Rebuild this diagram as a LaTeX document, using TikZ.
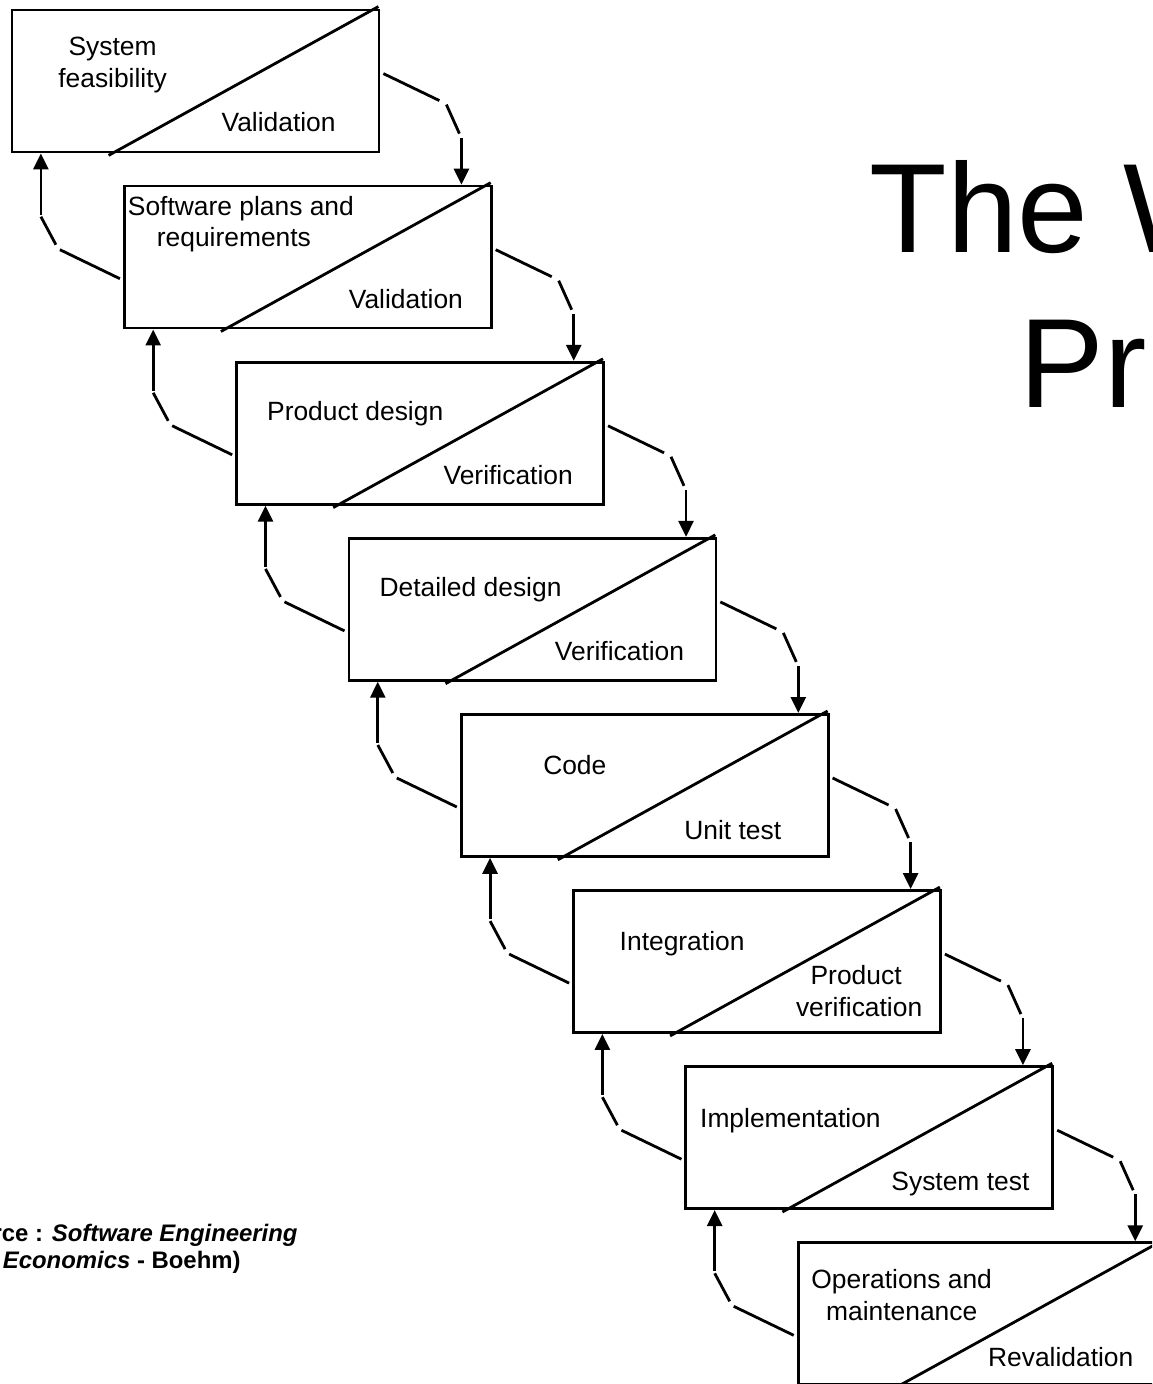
\documentclass[tikz,border=0pt]{standalone}
\usepackage{fontspec}
\setmainfont{Liberation Sans}
\usetikzlibrary{arrows.meta,calc}
\tikzset{
  box/.style={draw, line width=1.4pt, minimum width=183.5pt, minimum height=71pt, inner sep=0pt},
  diag/.style={line width=1.4pt},
  conn/.style={line width=1.4pt},
  connarrow/.style={line width=1.4pt, -{Triangle[length=8pt,width=7.5pt]}},
  lbl/.style={inner sep=0pt, anchor=base, font=\fontsize{13.2}{15}\selectfont},
  title/.style={inner sep=0pt, anchor=base west, font=\fontsize{63.5}{70}\selectfont},
  src/.style={inner sep=0pt, anchor=base east, font=\fontsize{11.95}{14}\selectfont\bfseries}
}
\begin{document}
\begin{tikzpicture}[x=0.5pt,y=-0.5pt]
\useasboundingbox (0,0) rectangle (1152,1384);
\clip (0,0) rectangle (1152,1384);
\fill[white] (0,0) rectangle (1152,1384);
% boxes
\foreach \i in {0,...,7}{
  \node[box] (b\i) at ({12+112.3*\i+183.5},{10+176.1*\i+71}) {};
  \draw[diag] ($(b\i.south west)+(98,2)$) -- ($(b\i.north east)+(-2,-2)$);
}
% connectors
\foreach \i/\j in {0/1,1/2,2/3,3/4,4/5,5/6,6/7}{
  % forward (right side)
  \draw[conn] ($(b\i.north east)+(3,65)$) -- ($(b\i.north east)+(59,92)$);
  \draw[conn] ($(b\i.north east)+(66,96)$) -- ($(b\i.north east)+(79,125)$);
  \coordinate (r\i) at ($(b\i.north east)+(81,129)$);
  \draw[connarrow] (r\i) -- (r\i |- b\j.north);
  % backward (left side)
  \draw[conn] ($(b\j.north west)+(-3,94)$) -- ($(b\j.north west)+(-63,65)$);
  \draw[conn] ($(b\j.north west)+(-67,60)$) -- ($(b\j.north west)+(-82,32)$);
  \coordinate (l\j) at ($(b\j.north west)+(-82,30)$);
  \draw[connarrow] (l\j) -- (l\j |- b\i.south);
}
% labels
\node[lbl] (t0a) at ($(b0.north west)+(102,47)$) {System};
\node[lbl] (t0b) at ($(b0.north west)+(102,79)$) {feasibility};
\node[lbl] (t0c) at ($(b0.north west)+(268,123)$) {Validation};
\node[lbl] (t1a) at ($(b1.north west)+(118,31)$) {Software plans and};
\node[lbl] (t1b) at ($(b1.north west)+(111,62)$) {requirements};
\node[lbl] (t1c) at ($(b1.north west)+(283,124)$) {Validation};
\node[lbl] (t2a) at ($(b2.north west)+(120,60)$) {Product design};
\node[lbl] (t2c) at ($(b2.north west)+(273,124)$) {Verification};
\node[lbl] (t3a) at ($(b3.north west)+(123,60)$) {Detailed design};
\node[lbl] (t3c) at ($(b3.north west)+(272,124)$) {Verification};
\node[lbl] (t4a) at ($(b4.north west)+(115,61)$) {Code};
\node[lbl] (t4c) at ($(b4.north west)+(273,126)$) {Unit test};
\node[lbl] (t5a) at ($(b5.north west)+(110,61)$) {Integration};
\node[lbl] (t5b) at ($(b5.north west)+(284,95)$) {Product};
\node[lbl] (t5c) at ($(b5.north west)+(287,127)$) {verification};
\node[lbl] (t6a) at ($(b6.north west)+(106,62)$) {Implementation};
\node[lbl] (t6c) at ($(b6.north west)+(276,125)$) {System test};
\node[lbl] (t7a) at ($(b7.north west)+(105,47)$) {Operations and};
\node[lbl] (t7b) at ($(b7.north west)+(105,79)$) {maintenance};
\node[lbl] (t7c) at ($(b7.north west)+(264,125)$) {Revalidation};
% title
\node[title] (ti1) at (869,253) {The W};
\node[title] (ti2) at (1019,408) {Pr};
% source
\node[src] (s1) at (298,1241) {rce : \textit{Software Engineering}};
\node[src] (s2) at (241,1268) {\textit{Economics} - Boehm)};
\end{tikzpicture}
\end{document}
